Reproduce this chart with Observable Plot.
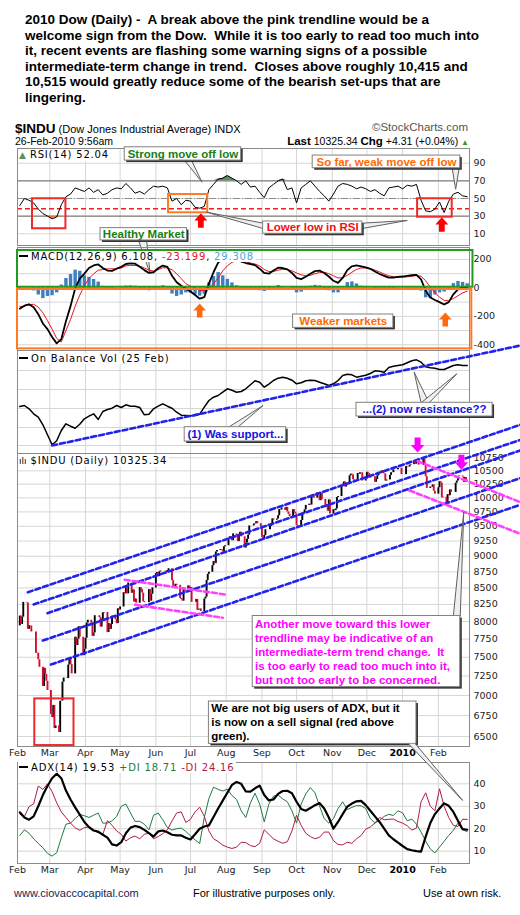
<!DOCTYPE html>
<html><head><meta charset="utf-8">
<script src="https://cdn.jsdelivr.net/npm/d3@7"></script>
<script src="https://cdn.jsdelivr.net/npm/@observablehq/plot@0.6"></script>
<style>
html,body{margin:0;padding:0;background:#fff;}
#root{position:relative;width:520px;height:915px;overflow:hidden;background:#fff;font-family:"Liberation Sans",Arial,sans-serif;color:#000;}
.t{position:absolute;white-space:pre;line-height:1;}
.title{position:absolute;left:25px;top:12px;white-space:pre;font:bold 13.5px/15.6px "Liberation Sans",Arial,sans-serif;}
.lg{position:absolute;white-space:pre;font-family:"DejaVu Sans",sans-serif;font-size:10px;letter-spacing:0.8px;background:#fff;padding:0 2px 0 1px;line-height:11px;}
.dash{display:inline-block;width:9px;height:2px;background:#000;vertical-align:middle;margin-right:3px;position:relative;top:-1px;}
.foot{position:absolute;top:887px;font:11px "Liberation Sans",Arial,sans-serif;white-space:pre;}
</style></head>
<body><div id="root"></div>
<script>
// ================= DATA =================
// Indicator readings on a 4-calendar-day grid starting 2009-02-03
const indicatorStart = "2009-02-03";
const rsi14 = [42,50,48,45,38,33,30,27,29,43,
 52,55,62,60,58,62,57,60,54,56,
 60,62,61,67,62,56,58,55,60,64,
 63,64,62,47,50,43,48,47,40,39,
 41,60,66,72,73,76,73,70,66,70,
 63,64,57,51,62,66,70,72,60,62,
 45,62,66,70,64,58,53,47,55,64,
 67,66,64,61,63,61,58,60,56,53,
 62,63,64,61,65,64,66,48,36,35,
 38,46,34,47,55,57,53,52.04];
const macdLine = [-146,-125,-115,-136,-185,-250,-290,-345,-390,-360,
 -234,-128,-4,66,100,140,158,165,140,122,
 120,135,148,168,172,170,148,125,105,110,
 138,157,148,85,40,15,-5,-25,-50,-76,
 -65,30,110,178,205,215,215,205,185,175,
 168,160,135,105,100,122,142,140,130,105,
 70,62,78,100,118,122,105,80,50,35,
 70,125,152,158,152,145,134,115,98,85,
 72,73,78,80,85,89,91,60,-20,-68,
 -85,-100,-117,-100,-45,-10,4,6.108];
const macdSignal = [-132,-128,-120,-115,-135,-175,-230,-290,-355,-380,
 -300,-222,-129,-51,15,66,99,124,129,134,
 134,135,140,155,158,158,152,140,125,118,
 128,142,140,128,100,65,30,12,0,-18,
 -20,-5,30,70,120,155,180,190,192,185,
 175,168,155,130,115,115,125,130,130,120,
 105,92,85,88,100,108,110,100,85,70,
 72,88,110,130,140,140,135,125,112,98,
 85,78,76,76,78,82,87,82,50,5,
 -35,-65,-88,-90,-75,-55,-35,-23.199];
const obvLine = [47.0,48.0,44.7,39.7,36.3,28.7,18.7,8.7,12.7,23.0,
 29.7,27.3,25.3,29.3,34.7,37.3,39.7,34.0,42.0,44.0,
 45.3,48.0,46.0,48.7,47.3,47.3,46.0,38.7,39.3,44.7,
 47.3,49.7,47.3,45.3,41.3,38.3,38.0,37.7,38.0,39.3,
 46.3,53.0,56.3,58.0,61.3,64.7,63.3,61.3,62.0,64.7,
 68.7,72.7,71.3,66.3,69.3,73.0,75.3,76.3,75.3,73.3,
 69.7,70.7,72.7,73.3,73.0,71.3,69.7,68.0,69.7,73.0,
 78.0,79.3,78.7,76.3,77.3,78.3,80.0,82.7,82.3,81.3,
 86.0,87.3,88.0,88.7,90.7,92.7,93.7,91.3,86.7,85.7,
 85.3,84.0,84.0,86.0,88.0,88.7,88.0,88.0];
const adx14 = [27.3,25,24,25.5,30,35,39,42.5,44.5,42.5,
 37,33,29.5,26.3,23,20.7,19.2,18.7,17.3,16,
 13,12.5,14,18,20.5,21.2,20.7,19.5,18,16.5,
 18.8,19.2,18.4,17.3,17,17,16,15.2,17.5,20,
 21,21.5,25.2,29,32.5,36,39.5,40.8,40,36.6,
 36.5,38,39.2,35,32.6,33,35.5,36.8,36.9,35.8,
 32,28.8,28,29.2,30.5,31.4,29,25,20,23,
 26.5,29.8,31.2,32.2,32.4,30.5,28,25.5,23,20,
 17,15.3,13.8,12.3,10.9,10.4,10,9.8,16.5,22.5,
 26.5,29,31.3,30.2,27.5,23.5,19.8,19.53];
const plusDI = [17,19.5,18,15.5,13.5,11.5,9,7.8,9.3,16,
 22,22.5,24.5,26.3,25.8,25,26,27,22.5,22.5,
 23.5,25.5,30,31,27,23.2,23.3,22,19.5,26,
 27,24,20.5,19.4,20,20.3,18.8,16.8,15,13.4,
 25,33.5,38.5,37.5,36.8,37.6,34.8,33,28,25,
 31.5,35.8,31,23,31,34.5,35,33.3,32,28,
 22.5,31,35.5,38.3,36,30,24.5,22.5,24.5,29,
 32,28.5,29.5,30.3,30.2,29,24.5,22.5,23.7,25.5,
 26.4,25.9,28,27,23.5,24.3,22,18.5,14.5,11,
 9.2,11.8,14.4,17,19.3,22.5,19.5,18.71];
const minusDI = [26.5,25.4,29.8,31.1,39,37.5,40,36.5,31.5,27.5,
 25,22.5,20.4,19.3,20.5,20.8,19.2,18.2,17.5,23.6,
 21.5,19,17.5,14.5,16,16.7,15.5,17.5,18,15.5,
 16.5,17.8,19.5,23.5,27,27.5,22.8,24.2,27.5,29.6,
 25.5,19,15.5,14.3,12.7,11.8,11.2,11.8,14,13.8,
 12.5,12,13.5,19.5,17.5,15.5,14.4,13.5,14.2,19,
 26,21.5,18,16.5,15.5,16.2,18.5,18.5,14.7,13,
 12.8,14,13.5,15.5,17,19.8,20.8,22.5,25,24,
 24.2,24.3,23.2,22.5,21.3,19.4,20.3,32,36,30,
 28,37.8,30,25,21.5,21,24.2,24.16];

// Daily closes of $INDU, [day of month, close]
const close2009_02 = [[2,7936.8],[3,8078.4],[4,7956.7],[5,8063.1],[6,8280.6],[9,8270.9],[10,7888.9],[11,7939.5],[12,7932.8],[13,7850.4],[17,7552.6],[18,7555.6],[19,7465.9],[20,7365.7],[23,7114.8],[24,7350.9],[25,7270.9],[26,7182.1],[27,7062.9]];
const close2009_03 = [[2,6763.3],[3,6726.0],[4,6875.8],[5,6594.4],[6,6627.0],[9,6547.1],[10,6926.5],[11,6930.4],[12,7170.1],[13,7223.0],[16,7216.9],[17,7395.7],[18,7486.6],[19,7400.8],[20,7278.4],[23,7775.9],[24,7660.2],[25,7749.8],[26,7924.6],[27,7776.2],[30,7522.0],[31,7608.9]];
const close2009_04 = [[1,7761.6],[2,7978.1],[3,8017.6],[6,7975.9],[7,7789.6],[8,7837.1],[9,8083.4],[13,8057.8],[14,7920.2],[15,8029.6],[16,8125.4],[17,8131.3],[20,7841.7],[21,7969.6],[22,7886.6],[23,7957.1],[24,8076.3],[27,8025.0],[28,7969.6],[29,8185.7],[30,8168.1]];
const close2009_05 = [[1,8212.4],[4,8426.7],[5,8410.7],[6,8512.3],[7,8409.9],[8,8574.7],[11,8418.8],[12,8469.1],[13,8284.9],[14,8331.3],[15,8268.6],[18,8504.1],[19,8474.9],[20,8422.0],[21,8292.1],[22,8277.3],[26,8473.5],[27,8300.0],[28,8403.8],[29,8500.3]];
const close2009_06 = [[1,8721.4],[2,8740.9],[3,8675.2],[4,8750.2],[5,8763.1],[8,8764.5],[9,8763.1],[10,8739.0],[11,8770.9],[12,8799.3],[15,8612.1],[16,8504.7],[17,8497.2],[18,8555.6],[19,8539.7],[22,8339.0],[23,8322.9],[24,8299.9],[25,8472.4],[26,8438.4],[29,8529.4],[30,8447.0]];
const close2009_07 = [[1,8504.1],[2,8280.7],[6,8324.9],[7,8163.6],[8,8178.4],[9,8183.2],[10,8146.5],[13,8331.7],[14,8359.5],[15,8616.2],[16,8711.8],[17,8743.9],[20,8848.2],[21,8915.9],[22,8881.3],[23,9069.3],[24,9093.2],[27,9108.5],[28,9096.7],[29,9070.7],[30,9154.5],[31,9171.6]];
const close2009_08 = [[3,9286.6],[4,9320.2],[5,9280.7],[6,9256.3],[7,9370.1],[10,9337.9],[11,9241.5],[12,9361.6],[13,9398.2],[14,9321.4],[17,9135.3],[18,9217.9],[19,9279.2],[20,9350.1],[21,9505.9],[24,9509.3],[25,9539.3],[26,9543.5],[27,9580.6],[28,9544.2],[31,9496.3]];
const close2009_09 = [[1,9310.6],[2,9280.7],[3,9344.6],[4,9441.3],[8,9497.3],[9,9547.2],[10,9627.5],[11,9605.4],[14,9626.8],[15,9683.4],[16,9791.7],[17,9783.9],[18,9820.2],[21,9778.9],[22,9829.9],[23,9748.6],[24,9707.4],[25,9665.2],[28,9789.4],[29,9742.2],[30,9712.3]];
const close2009_10 = [[1,9509.3],[2,9487.7],[5,9599.8],[6,9731.3],[7,9725.6],[8,9786.9],[9,9864.9],[12,9885.8],[13,9871.1],[14,10015.9],[15,10062.9],[16,9995.9],[19,10092.2],[20,10041.5],[21,9949.4],[22,10081.3],[23,9972.2],[26,9867.9],[27,9882.2],[28,9762.7],[29,9962.6],[30,9712.7]];
const close2009_11 = [[2,9789.4],[3,9771.9],[4,9802.1],[5,10005.9],[6,10023.4],[9,10226.9],[10,10247.0],[11,10291.3],[12,10197.5],[13,10270.5],[16,10406.9],[17,10437.4],[18,10426.3],[19,10332.4],[20,10318.2],[23,10450.9],[24,10433.7],[25,10464.4],[27,10309.9],[30,10344.8]];
const close2009_12 = [[1,10471.5],[2,10452.7],[3,10366.2],[4,10388.9],[7,10390.1],[8,10285.9],[9,10337.1],[10,10405.8],[11,10471.5],[14,10501.1],[15,10452.0],[16,10441.1],[17,10308.3],[18,10328.9],[21,10414.1],[22,10464.9],[23,10466.4],[24,10520.1],[28,10547.1],[29,10545.4],[30,10548.5],[31,10428.1]];
const close2010_01 = [[4,10583.9],[5,10572.0],[6,10573.7],[7,10606.9],[8,10618.2],[11,10663.9],[12,10627.3],[13,10680.8],[14,10710.6],[15,10609.7],[19,10725.4],[20,10603.2],[21,10389.9],[22,10172.9],[25,10196.9],[26,10194.3],[27,10236.2],[28,10120.5],[29,10067.3]];
const close2010_02 = [[1,10185.5],[2,10296.9],[3,10270.6],[4,10002.2],[5,10012.2],[8,9908.4],[9,10058.6],[10,10038.4],[11,10144.2],[12,10099.1],[16,10268.8],[17,10309.2],[18,10392.9],[19,10402.4],[22,10383.4],[23,10282.4],[24,10374.2],[25,10321.0],[26,10325.3]];

// Tick labels
const monthLabels = ["Feb","Mar","Apr","May","Jun","Jul","Aug","Sep","Oct","Nov","Dec","2010","Feb"];
const rsiTicks = [10,30,50,70,90];
const macdTicks = [200,0,-200,-400];
const macdGrid = [200,100,0,-100,-200,-300,-400];
const obvGrid = [8,26,45,64,83];
const priceTicks = [6500,6750,7000,7250,7500,7750,8000,8250,8500,8750,9000,9250,9500,9750,10000,10250,10500,10750];
const adxTicks = [10,20,30,40];

// Annotations (data coordinates of each panel)
const rsiBoxes = [
 {x1:"2009-02-14",x2:"2009-03-15",y1:15.7,y2:49.7,color:"#ee2a2a"},
 {x1:"2009-06-12",x2:"2009-07-16",y1:33.8,y2:54.5,color:"#ff7a22"},
 {x1:"2010-01-14",x2:"2010-02-13",y1:28.8,y2:49.7,color:"#ee2a2a"}];
const rsiArrows = [{x:"2009-07-10",y:25.1},{x:"2010-02-04",y:20.5}];
const rsiLowLevel = [38.3];
const rsiNotes = [
 {text:"Strong move off low",x1:"2009-05-05",x2:"2009-08-14",y1:93,y2:108.1,color:"#168016"},
 {text:"So far, weak move off low",x1:"2009-10-15",x2:"2010-02-20",y1:84.3,y2:98.7,color:"#ff6a00"},
 {text:"Lower low in RSI",x1:"2009-09-02",x2:"2009-11-27",y1:10,y2:23.9,color:"#ee1111"},
 {text:"Healthy Market",x1:"2009-04-14",x2:"2009-06-28",y1:2.4,y2:16.4,color:"#168016"}];
const rsiCallouts = [
 [["2009-06-26",93],["2009-07-11",68.5],["2009-07-02",93]],
 [["2010-02-13",84.3],["2010-02-16",60.5],["2010-02-19",84.3]],
 [["2009-09-02",22],["2009-07-15",34.5],["2009-09-02",16]],
 [["2009-11-27",22],["2010-01-05",25.1],["2009-11-27",16]],
 [["2009-05-17",2.4],["2009-05-27",-35.3],["2009-05-24",2.4]]];
const macdBoxes = [
 {x1:"2009-02-01",x2:"2010-03-03",y1:4.9,y2:263,color:"#229922"},
 {x1:"2009-02-01",x2:"2010-03-02",y1:-428.4,y2:-11.3,color:"#ff7a22"}];
const macdArrows = [{x:"2009-07-09",y:-159},{x:"2010-02-07",y:-222}];
const macdNotes = [{text:"Weaker markets",x1:"2009-09-28",x2:"2009-12-24",y1:-281,y2:-187,color:"#ff6a00"}];
const obvTrend = [["2009-03-03",8],["2010-04-13",108]];
const obvNotes = [
 {text:"(1) Was support...",x1:"2009-06-26",x2:"2009-09-22",y1:12,y2:26.3,color:"#1414dd"},
 {text:"...(2) now resistance??",x1:"2009-11-22",x2:"2010-03-20",y1:37,y2:50.7,color:"#1414dd"}];
const obvCallouts = [
 [["2009-08-03",26.3],["2009-09-02",48],["2009-08-11",26.3]],
 [["2010-01-17",50.7],["2010-01-11",81.3],["2010-01-24",50.7]],
 [["2010-01-17",50.7],["2010-02-17",79.7],["2010-01-24",50.7]]];
const channelLines = [
 [["2009-02-10",8434],["2010-04-13",11410]],
 [["2009-02-15",8250],["2010-04-13",11103]],
 [["2009-02-27",8121],["2010-04-13",10894]],
 [["2009-02-23",7730],["2010-04-13",10363]],
 [["2009-03-02",7402],["2010-04-13",9876]]];
const pinkLines = [
 [["2009-05-05",8626],["2009-07-31",8399]],
 [["2009-05-14",8245],["2009-07-29",8054]],
 [["2010-01-14",10684],["2010-04-13",9923]],
 [["2010-01-07",10134],["2010-04-13",9372]]];
const priceBoxes = [{x1:"2009-02-16",x2:"2009-03-22",y1:6395,y2:6957,color:"#ee2a2a"}];
const priceArrows = [{x:"2010-01-14",y:11001},{x:"2010-02-21",y:10665}];
const priceNotes = [
 {text:"Another move toward this lower\ntrendline may be indicative of an\nintermediate-term trend change.  It\nis too early to read too much into it,\nbut not too early to be concerned.",
  x1:"2009-08-24",x2:"2010-02-20",y1:7106,y2:8080,tx:"2009-08-26",ty:7582,color:"#ff00ff"},
 {text:"We are not big users of ADX, but it\nis now on a sell signal (red above\ngreen).",
  x1:"2009-07-17",x2:"2010-01-13",y1:6414,y2:6924,tx:"2009-07-19",ty:6679,color:"#000000"}];
const priceCallouts = [[["2010-02-14",8080],["2010-02-23",9745],["2010-02-20",8080]]];
const adxCallouts = [[["2010-01-06",57.9],["2010-02-22",32.6],["2010-01-12",57.9]]];

// ================= BUILD =================
const D = s => new Date(s);
const indDates = rsi14.map((_, i) => d3.utcDay.offset(D(indicatorStart), 4 * i));
const rsiData = indDates.map((date, i) => ({date, v: rsi14[i]}));
const macdData = indDates.map((date, i) => ({date, macd: macdLine[i], signal: macdSignal[i], hist: macdLine[i] - macdSignal[i]}));
const obvData = indDates.map((date, i) => ({date, v: obvLine[i]}));
const adxData = indDates.map((date, i) => ({date, adx: adx14[i], pdi: plusDI[i], mdi: minusDI[i]}));

const closeMonths = [["2009-02",close2009_02],["2009-03",close2009_03],["2009-04",close2009_04],["2009-05",close2009_05],["2009-06",close2009_06],["2009-07",close2009_07],["2009-08",close2009_08],["2009-09",close2009_09],["2009-10",close2009_10],["2009-11",close2009_11],["2009-12",close2009_12],["2010-01",close2010_01],["2010-02",close2010_02]];
const closes = closeMonths.flatMap(([ym, arr]) => arr.map(([d, c]) => ({date: D(`${ym}-${String(d).padStart(2, "0")}`), close: c})));
const bars = closes.slice(1).map((r, i) => ({date: r.date, close: r.close, lo: Math.min(closes[i].close, r.close), hi: Math.max(closes[i].close, r.close), up: r.close >= closes[i].close}));

const axisMonths = d3.utcMonth.range(D("2009-02-01"), D("2010-03-01"));
const monthAxis = axisMonths.map((date, i) => ({date, label: monthLabels[i]}));
const gridMonths = axisMonths.slice(1);

const root = document.getElementById("root");
const xScale = {type: "utc", domain: [D("2009-02-01"), D("2010-02-28")], axis: null};
const AX = {fontSize: 9.5, fontFamily: "DejaVu Sans, sans-serif", fill: "#222"};
const NOTE = {fontSize: 11.5, fontFamily: "Liberation Sans, Arial, sans-serif", fontWeight: "bold"};

function panel(top, height, y, marks) {
  const svg = Plot.plot({
    width: 520, height, marginLeft: 17, marginRight: 51, marginTop: 0, marginBottom: 0,
    x: xScale, y: {...y, axis: null},
    style: {position: "absolute", left: "0px", top: `${top}px`, overflow: "visible", background: "transparent"},
    marks
  });
  root.appendChild(svg);
}
const gridMarks = (ticks) => [
  Plot.ruleX(gridMonths, {stroke: "#d6d6d6"}),
  Plot.ruleY(ticks, {stroke: "#d6d6d6"})
];
const yLabels = (ticks) => Plot.text(ticks, {y: d => d, text: d => String(d), frameAnchor: "right", textAnchor: "start", dx: 4, ...AX});
const xLabels = () => [
  Plot.text(monthAxis.filter(d => d.label !== "2010"), {x: "date", text: "label", frameAnchor: "bottom", dy: 9, ...AX}),
  Plot.text(monthAxis.filter(d => d.label === "2010"), {x: "date", text: "label", frameAnchor: "bottom", dy: 9, ...AX, fontWeight: "bold", fill: "#000"})
];
const frame = () => Plot.frame({stroke: "#8a8a8a"});
const boxMarks = (boxes) => Plot.rect(boxes, {x1: d => D(d.x1), x2: d => D(d.x2), y1: "y1", y2: "y2", stroke: d => d.color, strokeWidth: 2, fill: "none"});
function noteMarks(notes, log) {
  const mid = (a, b) => log ? Math.sqrt(a * b) : (a + b) / 2;
  const out = [];
  for (const n of notes) {
    out.push(Plot.rect([n], {x1: d => D(d.x1), x2: d => D(d.x2), y1: "y1", y2: "y2", fill: "#333", dx: 2, dy: 2}));
    out.push(Plot.rect([n], {x1: d => D(d.x1), x2: d => D(d.x2), y1: "y1", y2: "y2", fill: "white", stroke: "#808080"}));
    if (n.tx) {
      out.push(Plot.text([n], {x: d => D(d.tx), y: "ty", text: "text", textAnchor: "start", lineHeight: 1.22, fill: n.color, ...NOTE}));
    } else {
      out.push(Plot.text([n], {x: d => new Date((D(d.x1).getTime() + D(d.x2).getTime()) / 2), y: d => mid(d.y1, d.y2), text: "text", fill: n.color, ...NOTE}));
    }
  }
  return out;
}
const calloutMarks = (callouts) => callouts.map(pts => Plot.line(pts, {x: p => D(p[0]), y: p => p[1], stroke: "#606060", strokeWidth: 1, fill: "#efefef", curve: "linear"}));
const arrowDown = {draw(ctx, size) { const r = Math.sqrt(size / Math.PI), w = 0.4 * r, h = 0.9 * r;
  ctx.moveTo(-w, -r); ctx.lineTo(w, -r); ctx.lineTo(w, 0); ctx.lineTo(h, 0); ctx.lineTo(0, r); ctx.lineTo(-h, 0); ctx.lineTo(-w, 0); ctx.closePath(); }};
const arrowUp = {draw(ctx, size) { const r = Math.sqrt(size / Math.PI), w = 0.4 * r, h = 0.9 * r;
  ctx.moveTo(-w, r); ctx.lineTo(w, r); ctx.lineTo(w, 0); ctx.lineTo(h, 0); ctx.lineTo(0, -r); ctx.lineTo(-h, 0); ctx.lineTo(-w, 0); ctx.closePath(); }};
const arrowMarks = (arrows, symbol, color, r) => Plot.dot(arrows, {x: d => D(d.x), y: "y", r, symbol, fill: color, stroke: "none"});
const dashedLines = (lines, color) => lines.map(pts => Plot.line(pts, {x: p => D(p[0]), y: p => p[1], stroke: color, strokeWidth: 2.6, strokeDasharray: "5,3"}));

// ---- RSI panel ----
panel(148, 97, {domain: [-3.3, 106.7]}, [
  ...gridMarks(rsiTicks),
  Plot.ruleY([30, 70], {stroke: "#6a6a6a"}),
  Plot.ruleY([50], {stroke: "#8a8a8a", strokeDasharray: "7,2,1,2"}),
  Plot.areaY(rsiData, {x: "date", y1: 70, y2: d => Math.max(70, d.v), fill: "#5e8f5e"}),
  Plot.areaY(rsiData, {x: "date", y1: 30, y2: d => Math.min(30, d.v), fill: "#f07030"}),
  Plot.ruleY(rsiLowLevel, {stroke: "#ee2020", strokeWidth: 1.4, strokeDasharray: "5,3"}),
  Plot.line(rsiData, {x: "date", y: "v", stroke: "#000", strokeWidth: 1}),
  frame(),
  yLabels(rsiTicks),
  boxMarks(rsiBoxes),
  arrowMarks(rsiArrows, arrowUp, "#ff0000", 7.2),
  ...calloutMarks(rsiCallouts),
  ...noteMarks(rsiNotes, false)
]);

// ---- MACD panel ----
panel(247, 103, {domain: [-440, 284]}, [
  ...gridMarks(macdGrid),
  Plot.ruleX(macdData, {x: "date", y1: 0, y2: "hist", stroke: "#3d7fbf", strokeWidth: 3.4}),
  Plot.line(macdData, {x: "date", y: "signal", stroke: "#e8141e", strokeWidth: 1}),
  Plot.line(macdData, {x: "date", y: "macd", stroke: "#000", strokeWidth: 1.8}),
  frame(),
  yLabels(macdTicks),
  boxMarks(macdBoxes),
  arrowMarks(macdArrows, arrowUp, "#ff6a10", 7),
  ...noteMarks(macdNotes, false)
]);

// ---- OBV panel ----
panel(350, 103, {domain: [0, 103]}, [
  ...gridMarks(obvGrid),
  Plot.line(obvData, {x: "date", y: "v", stroke: "#000", strokeWidth: 1.5}),
  frame(),
  ...dashedLines([obvTrend], "#2222ee"),
  ...calloutMarks(obvCallouts),
  ...noteMarks(obvNotes, false)
]);

// ---- Price panel ----
panel(453, 293, {type: "log", domain: [6384, 10834]}, [
  ...gridMarks(priceTicks),
  Plot.ruleX(bars.filter(d => d.up), {x: "date", y1: "lo", y2: "hi", stroke: "#000", strokeWidth: 1.9}),
  Plot.ruleX(bars.filter(d => !d.up), {x: "date", y1: "lo", y2: "hi", stroke: "#cc1133", strokeWidth: 1.9}),
  frame(),
  yLabels(priceTicks),
  ...xLabels(),
  ...dashedLines(channelLines, "#2222ee"),
  ...dashedLines(pinkLines, "#ff40ff"),
  boxMarks(priceBoxes),
  arrowMarks(priceArrows, arrowDown, "#ff00ff", 7.5),
  ...calloutMarks(priceCallouts),
  ...noteMarks(priceNotes, true)
]);

// ---- ADX panel ----
panel(762, 101, {domain: [4.5, 49.5]}, [
  ...gridMarks(adxTicks),
  Plot.line(adxData, {x: "date", y: "pdi", stroke: "#1f7a3d", strokeWidth: 1}),
  Plot.line(adxData, {x: "date", y: "mdi", stroke: "#b01b44", strokeWidth: 1}),
  Plot.line(adxData, {x: "date", y: "adx", stroke: "#000", strokeWidth: 2.2}),
  frame(),
  yLabels(adxTicks),
  ...xLabels(),
  ...calloutMarks(adxCallouts)
]);

// ================= TEXT =================
function html(s) { const d = document.createElement("div"); d.innerHTML = s; const el = d.firstElementChild; root.appendChild(el); return el; }
html(`<div class="title">2010 Dow (Daily) -  A break above the pink trendline would be a
welcome sign from the Dow.  While it is too early to read too much into
it, recent events are flashing some warning signs of a possible
intermediate-term change in trend.  Closes above roughly 10,415 and
10,515 would greatly reduce some of the bearish set-ups that are
lingering.</div>`);
html(`<div class="t" style="left:15px;top:120px;"><span style="font-weight:bold;font-size:13.5px;">$INDU</span><span style="font-size:11px;"> (Dow Jones Industrial Average) INDX</span></div>`);
html(`<div class="t" style="right:52px;top:122px;font-size:11.5px;color:#555;">©StockCharts.com</div>`);
html(`<div class="t" style="left:15px;top:136px;font-size:10.5px;">26-Feb-2010 9:56am</div>`);
html(`<div class="t" style="right:51px;top:135.5px;font-size:10.5px;"><b style="font-size:11.5px;">Last</b> 10325.34 <b style="font-size:11.5px;">Chg</b> +4.31 (+0.04%) <span style="color:#2a9a2a;font-size:8px;">▲</span></div>`);
html(`<div class="lg" style="left:18px;top:149px;"><span style="color:#5e8f5e;font-size:9px;letter-spacing:0;">▲</span> RSI(14) 52.04</div>`);
html(`<div class="lg" style="left:18px;top:251px;"><span class="dash"></span>MACD(12,26,9) 6.108, <span style="color:#e8141e;">-23.199</span>, <span style="color:#4ea6dc;">29.308</span></div>`);
html(`<div class="lg" style="left:18px;top:353px;"><span class="dash"></span>On Balance Vol (25 Feb)</div>`);
html(`<div class="lg" style="left:18px;top:455px;"><span style="font-size:9px;letter-spacing:0;">ılı</span> $INDU (Daily) 10325.34</div>`);
html(`<div class="lg" style="left:18px;top:762px;"><span class="dash"></span>ADX(14) 19.53 <span style="color:#1f7a3d;">+DI 18.71</span> <span style="color:#b01b44;">-DI 24.16</span></div>`);
html(`<div class="foot" style="left:14px;color:#1c1c50;">www.ciovaccocapital.com</div>`);
html(`<div class="foot" style="left:193px;">For illustrative purposes only.</div>`);
html(`<div class="foot" style="left:423px;">Use at own risk.</div>`);
</script></body></html>
